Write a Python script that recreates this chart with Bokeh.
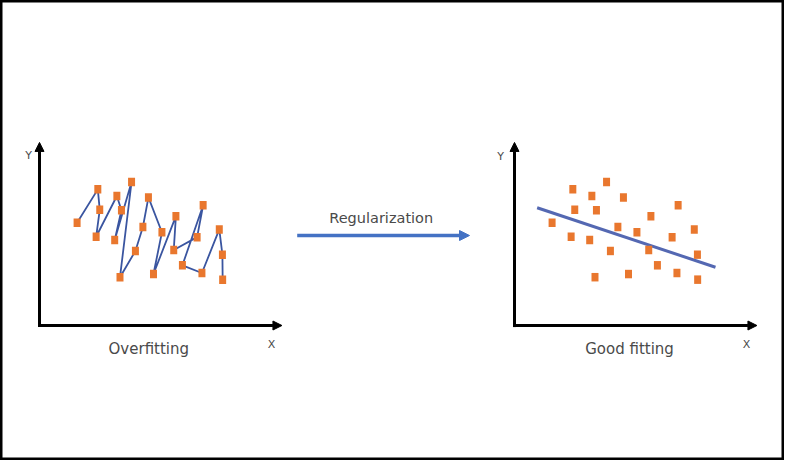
from bokeh.plotting import figure
from bokeh.models import Range1d, Arrow, NormalHead, Label
from bokeh.embed import file_html
from bokeh.resources import INLINE

# ---- data (panel units: 0..10 along each drawn axis) ----
point_x = [1.56, 2.42, 2.50, 2.35, 3.21, 3.40, 3.12, 3.82, 3.34, 3.98, 4.29, 4.52,
           5.08, 4.73, 5.66, 5.57, 6.54, 6.79, 5.93, 6.74, 7.46, 7.59, 7.60]
point_y = [5.87, 7.78, 6.61, 5.07, 7.40, 6.59, 4.88, 8.20, 2.76, 4.26, 5.63, 7.32,
           5.33, 2.94, 6.25, 4.31, 5.05, 6.87, 3.44, 3.00, 5.49, 4.05, 2.62]
fit_x = [0.94, 8.34]
fit_y = [6.73, 3.33]
titles = ["Overfitting", "Good fitting"]
arrow_text = "Regularization"

# ---- layout (figure pixels, origin bottom-left) ----
W, H = 784, 460
PX_X, PX_Y = 24.1, 17.5          # pixels per panel unit
ORIGINS = {"left": (39, 135), "right": (514, 135)}
X_AX_LEN, Y_AX_LEN = 10.06, 10.46

ORANGE = "#E9772E"
CURVE = "#3A55A0"
FITC = "#5468B2"
ARROWC = "#4472C4"
TEXTC = "#4a4a4a"
FONT = "DejaVu Sans"

p = figure(width=W, height=H, x_range=Range1d(0, W), y_range=Range1d(0, H),
           min_border=0, toolbar_location=None, output_backend="svg",
           background_fill_color="white", border_fill_color="white")
p.axis.visible = False
p.grid.visible = False
p.outline_line_color = "black"
p.outline_line_width = 4

for name, (ox, oy) in ORIGINS.items():
    p.extra_x_ranges[name] = Range1d(-ox / PX_X, (W - ox) / PX_X)
    p.extra_y_ranges[name] = Range1d(-oy / PX_Y, (H - oy) / PX_Y)
    # axes as arrows
    p.add_layout(Arrow(x_start=0, y_start=-0.09, x_end=0, y_end=Y_AX_LEN,
                       x_range_name=name, y_range_name=name,
                       line_color="black", line_width=3,
                       end=NormalHead(size=9, fill_color="black", line_color="black")))
    p.add_layout(Arrow(x_start=-0.06, y_start=0, x_end=X_AX_LEN, y_end=0,
                       x_range_name=name, y_range_name=name,
                       line_color="black", line_width=3,
                       end=NormalHead(size=9, fill_color="black", line_color="black")))

# overfitting curve through every point
p.line(point_x, point_y, x_range_name="left", y_range_name="left",
       line_color=CURVE, line_width=1.8)
# good fit line
p.line(fit_x, fit_y, x_range_name="right", y_range_name="right",
       line_color=FITC, line_width=3)

for name in ORIGINS:
    p.rect(point_x, point_y, width=7, height=8.5, width_units="screen",
           height_units="screen", x_range_name=name, y_range_name=name,
           fill_color=ORANGE, line_color=None)

# labels
def lab(x, y, t, size):
    p.add_layout(Label(x=x, y=y, text=t, text_align="center", text_baseline="middle",
                       text_font=FONT, text_font_size=size, text_color=TEXTC))

lab(148.3, 112, titles[0], "15px")
lab(629, 112, titles[1], "15px")
lab(380.7, 243, arrow_text, "14.5px")
lab(271, 116, "X", "11px")
lab(746, 116, "X", "11px")
lab(28, 305, "Y", "11px")
lab(500, 304, "Y", "11px")

# regularization arrow
p.add_layout(Arrow(x_start=296.7, y_start=225, x_end=469, y_end=225,
                   line_color=ARROWC, line_width=3.5,
                   end=NormalHead(size=10, fill_color=ARROWC, line_color=ARROWC)))

open("out.html", "w").write(file_html(p, INLINE))
